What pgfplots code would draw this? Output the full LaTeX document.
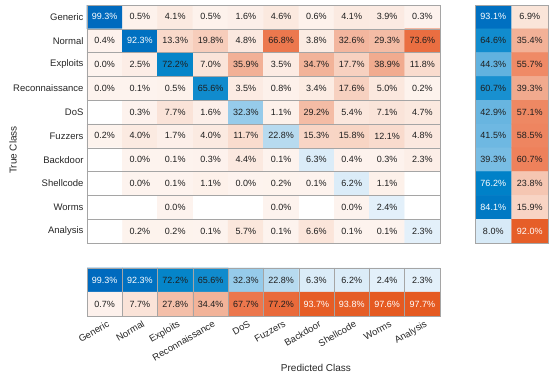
\documentclass[border=0pt]{standalone}
\usepackage{pgfplots}
\usepackage{pgfplotstable}
\pgfplotsset{compat=1.18}
\usepackage{fontspec}
\setmainfont{Liberation Sans}
\definecolor{gridc}{RGB}{165,165,165}
\definecolor{labc}{RGB}{38,38,38}
\definecolor{tB}{RGB}{30,30,30}
\pgfplotsset{colormap={conf}{rgb255(0pt)=(255,255,255) rgb255(2pt)=(228,240,250) rgb255(25pt)=(178,216,238) rgb255(35pt)=(140,198,232) rgb255(60pt)=(25,145,208) rgb255(75pt)=(0,130,200) rgb255(100pt)=(0,105,190) rgb255(101pt)=(255,255,255) rgb255(199pt)=(255,255,255) rgb255(200pt)=(253,243,238) rgb255(205pt)=(251,232,222) rgb255(215pt)=(248,214,198) rgb255(235pt)=(242,178,152) rgb255(260pt)=(238,130,92) rgb255(275pt)=(234,108,62) rgb255(300pt)=(228,88,30)}}

% main matrix: column-normalized percentages
% d: 1 diagonal, 0 off-diagonal, -1 empty;  t: 0 no label, 1 dark text, 2 white text
\pgfplotstableread{
x y v d t
1 1 99.3 1 2
2 1 0.5 0 1
3 1 4.1 0 1
4 1 0.5 0 1
5 1 1.6 0 1
6 1 4.6 0 1
7 1 0.6 0 1
8 1 4.1 0 1
9 1 3.9 0 1
10 1 0.3 0 1
1 2 0.4 0 1
2 2 92.3 1 2
3 2 13.3 0 1
4 2 19.8 0 1
5 2 4.8 0 1
6 2 66.8 0 1
7 2 3.8 0 1
8 2 32.6 0 1
9 2 29.3 0 1
10 2 73.6 0 1
1 3 0.0 0 1
2 3 2.5 0 1
3 3 72.2 1 1
4 3 7.0 0 1
5 3 35.9 0 1
6 3 3.5 0 1
7 3 34.7 0 1
8 3 17.7 0 1
9 3 38.9 0 1
10 3 11.8 0 1
1 4 0.0 0 1
2 4 0.1 0 1
3 4 0.5 0 1
4 4 65.6 1 1
5 4 3.5 0 1
6 4 0.8 0 1
7 4 3.4 0 1
8 4 17.6 0 1
9 4 5.0 0 1
10 4 0.2 0 1
1 5 0 -1 0
2 5 0.3 0 1
3 5 7.7 0 1
4 5 1.6 0 1
5 5 32.3 1 1
6 5 1.1 0 1
7 5 29.2 0 1
8 5 5.4 0 1
9 5 7.1 0 1
10 5 4.7 0 1
1 6 0.2 0 1
2 6 4.0 0 1
3 6 1.7 0 1
4 6 4.0 0 1
5 6 11.7 0 1
6 6 22.8 1 1
7 6 15.3 0 1
8 6 15.8 0 1
9 6 12.1 0 1
10 6 4.8 0 1
1 7 0 -1 0
2 7 0.0 0 1
3 7 0.1 0 1
4 7 0.3 0 1
5 7 4.4 0 1
6 7 0.1 0 1
7 7 6.3 1 1
8 7 0.4 0 1
9 7 0.3 0 1
10 7 2.3 0 1
1 8 0 -1 0
2 8 0.0 0 1
3 8 0.1 0 1
4 8 1.1 0 1
5 8 0.0 0 1
6 8 0.2 0 1
7 8 0.1 0 1
8 8 6.2 1 1
9 8 1.1 0 1
10 8 0 -1 0
1 9 0 -1 0
2 9 0 -1 0
3 9 0.0 0 1
4 9 0 -1 0
5 9 0 -1 0
6 9 0.0 0 1
7 9 0 -1 0
8 9 0.0 0 1
9 9 2.4 1 1
10 9 0 -1 0
1 10 0 -1 0
2 10 0.2 0 1
3 10 0.2 0 1
4 10 0.1 0 1
5 10 5.7 0 1
6 10 0.1 0 1
7 10 6.6 0 1
8 10 0.1 0 1
9 10 0.1 0 1
10 10 2.3 1 1
}\maintab

% row summary
\pgfplotstableread{
x y v d t
1 1 93.1 1 2
2 1 6.9 0 1
1 2 64.6 1 1
2 2 35.4 0 1
1 3 44.3 1 1
2 3 55.7 0 1
1 4 60.7 1 1
2 4 39.3 0 1
1 5 42.9 1 1
2 5 57.1 0 1
1 6 41.5 1 1
2 6 58.5 0 1
1 7 39.3 1 1
2 7 60.7 0 1
1 8 76.2 1 2
2 8 23.8 0 1
1 9 84.1 1 2
2 9 15.9 0 1
1 10 8.0 1 1
2 10 92.0 0 2
}\rowtab

% column summary
\pgfplotstableread{
x y v d t
1 1 99.3 1 2
2 1 92.3 1 2
3 1 72.2 1 1
4 1 65.6 1 1
5 1 32.3 1 1
6 1 22.8 1 1
7 1 6.3 1 1
8 1 6.2 1 1
9 1 2.4 1 1
10 1 2.3 1 1
1 2 0.7 0 1
2 2 7.7 0 1
3 2 27.8 0 1
4 2 34.4 0 1
5 2 67.7 0 1
6 2 77.2 0 1
7 2 93.7 0 2
8 2 93.8 0 2
9 2 97.6 0 2
10 2 97.7 0 2
}\coltab

\pgfplotsset{
  cmx/.style={scale only axis, y dir=reverse, enlargelimits=false, axis on top,
    colormap name=conf, point meta min=0, point meta max=300,
    axis line style={draw=gridc, line width=0.6pt},
    grid=minor, minor grid style={draw=gridc, line width=0.6pt},
    major tick length=0pt, minor tick length=0pt,
    ticklabel style={font=\fontsize{9.5}{11}\selectfont, text=labc},
    /pgf/number format/assume math mode=true},
  cells/.style={matrix plot*, mesh/cols=#1,
    point meta={\thisrow{d}>0.5 ? \thisrow{v} : (\thisrow{d}<-0.5 ? 150 : 200+\thisrow{v})}},
  vals/.style 2 args={only marks, mark=none, point meta=\thisrow{v},
    restrict expr to domain={\thisrow{t}}{#1},
    nodes near coords={\pgfmathprintnumber[fixed,fixed zerofill,precision=1]{\pgfplotspointmeta}\%},
    nodes near coords align=center,
    every node near coord/.append style={text=#2, font=\fontsize{9}{10}\selectfont, inner sep=0pt}}
}

\begin{document}
\begin{tikzpicture}
\useasboundingbox (0pt,0pt) rectangle (550pt,-377pt);

\begin{axis}[cmx, at={(87pt,-5pt)}, anchor=north west, width=353pt, height=238pt,
  xmin=0.5, xmax=10.5, ymin=0.5, ymax=10.5,
  xtick=\empty, ytick={1,...,10},
  yticklabels={Generic,Normal,Exploits,Reconnaissance,DoS,Fuzzers,Backdoor,Shellcode,Worms,Analysis},
  minor xtick={1.5,2.5,...,9.5}, minor ytick={1.5,2.5,...,9.5}]
\addplot[cells=10] table[x=x,y=y] {\maintab};
\addplot[vals={0.5:1.5}{tB}] table[x=x,y=y] {\maintab};
\addplot[vals={1.5:2.5}{white}] table[x=x,y=y] {\maintab};
\end{axis}

\begin{axis}[cmx, at={(475pt,-5pt)}, anchor=north west, width=73pt, height=238pt,
  xmin=0.5, xmax=2.5, ymin=0.5, ymax=10.5,
  xtick=\empty, ytick=\empty,
  minor xtick={1.5}, minor ytick={1.5,2.5,...,9.5}]
\addplot[cells=2] table[x=x,y=y] {\rowtab};
\addplot[vals={0.5:1.5}{tB}] table[x=x,y=y] {\rowtab};
\addplot[vals={1.5:2.5}{white}] table[x=x,y=y] {\rowtab};
\end{axis}

\begin{axis}[cmx, at={(87pt,-268pt)}, anchor=north west, width=353pt, height=48pt,
  xmin=0.5, xmax=10.5, ymin=0.5, ymax=2.5,
  ytick=\empty, xtick={1,...,10},
  xticklabels={Generic,Normal,Exploits,Reconnaissance,DoS,Fuzzers,Backdoor,Shellcode,Worms,Analysis},
  xticklabel style={rotate=30, anchor=north east, xshift=3pt, yshift=-1pt},
  minor xtick={1.5,2.5,...,9.5}, minor ytick={1.5}]
\addplot[cells=10] table[x=x,y=y] {\coltab};
\addplot[vals={0.5:1.5}{tB}] table[x=x,y=y] {\coltab};
\addplot[vals={1.5:2.5}{white}] table[x=x,y=y] {\coltab};
\end{axis}

\node[rotate=90, text=labc, font=\fontsize{10}{12}\selectfont] at (13pt,-150pt) {True Class};
\node[text=labc, font=\fontsize{10}{12}\selectfont] at (316pt,-368pt) {Predicted Class};
\end{tikzpicture}
\end{document}
